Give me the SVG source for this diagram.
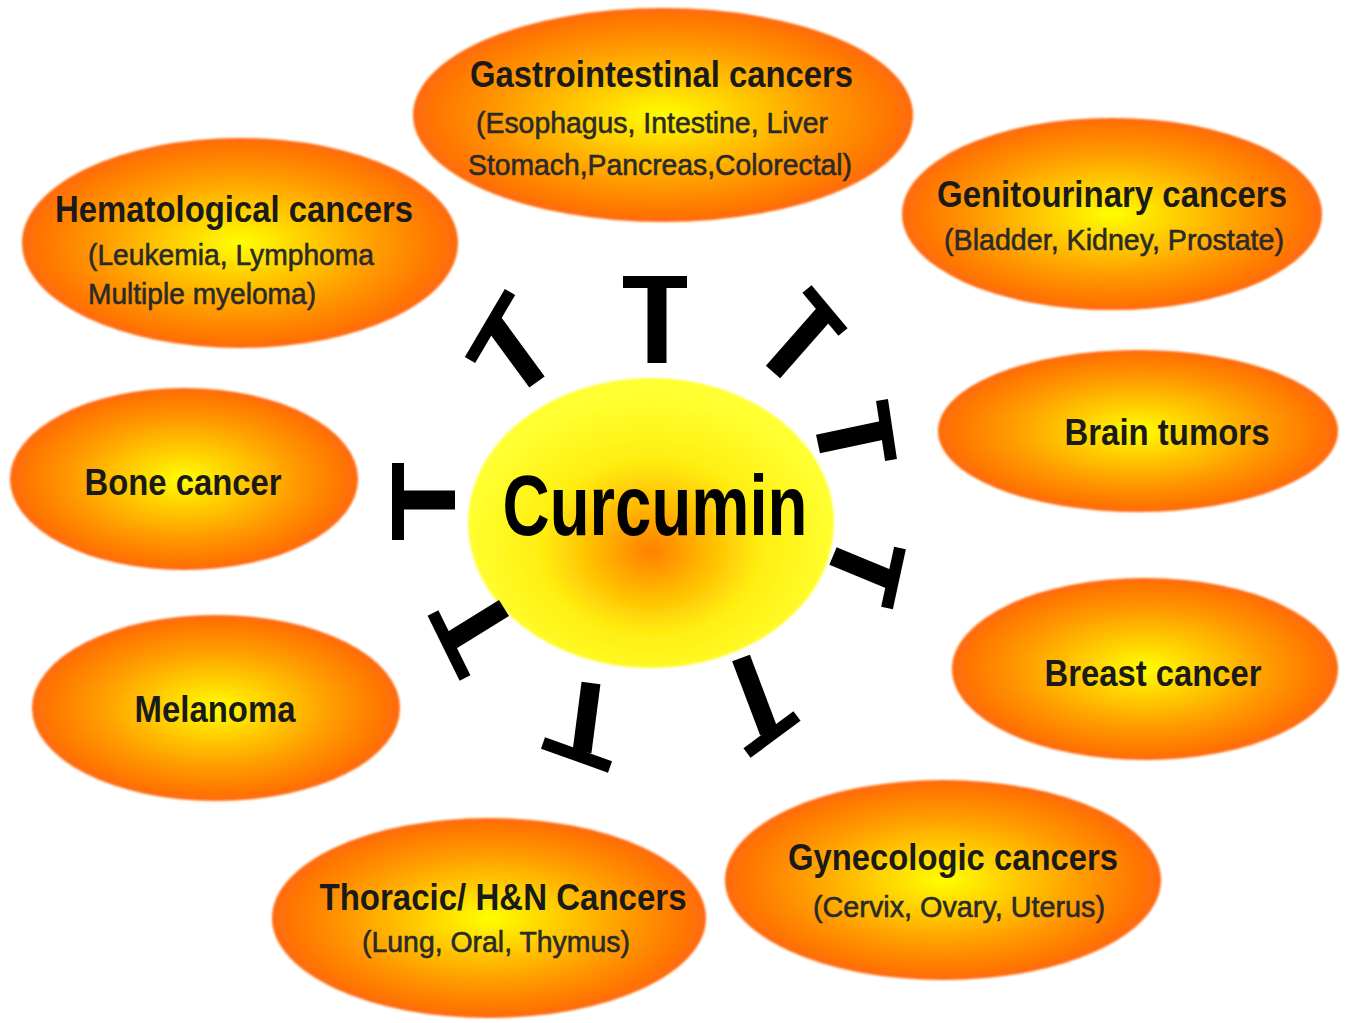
<svg xmlns="http://www.w3.org/2000/svg" width="1345" height="1023" viewBox="0 0 1345 1023">
<defs>
<radialGradient id="gOut" cx="50%" cy="50%" r="50%">
<stop offset="0" stop-color="#ffff00"/>
<stop offset="0.3" stop-color="#ffd000"/>
<stop offset="0.65" stop-color="#ff9a00"/>
<stop offset="1" stop-color="#ff6a08"/>
</radialGradient>
<radialGradient id="gCur" cx="50%" cy="57%" r="50%" fx="50%" fy="60%">
<stop offset="0" stop-color="#ff8000"/>
<stop offset="0.3" stop-color="#ffb800"/>
<stop offset="0.6" stop-color="#ffee10"/>
<stop offset="1" stop-color="#ffff30"/>
</radialGradient>
<filter id="soft" x="-5%" y="-5%" width="110%" height="110%"><feGaussianBlur stdDeviation="1.2"/></filter>
</defs>
<style>
.node{fill:url(#gOut);filter:url(#soft)}
.title{font-family:"Liberation Sans",Arial,sans-serif;font-weight:bold;font-size:36px;fill:#1a1a1a;text-anchor:middle}
.sub{font-family:"Liberation Sans",Arial,sans-serif;font-size:30px;fill:#2a2a2a;stroke:#2a2a2a;stroke-width:0.6;text-anchor:middle}
.stem{stroke:#000;stroke-width:19;fill:none}
.bar{stroke:#000;stroke-width:12;fill:none}
</style>
<rect width="1345" height="1023" fill="#ffffff"/>

<g id="gastrointestinal">
<ellipse class="node" cx="663" cy="115" rx="250" ry="107"/>
<text class="title" x="661.5" y="87" textLength="383" lengthAdjust="spacingAndGlyphs">Gastrointestinal cancers</text>
<text class="sub" x="652" y="133" textLength="352" lengthAdjust="spacingAndGlyphs">(Esophagus, Intestine, Liver</text>
<text class="sub" x="660" y="175" textLength="384" lengthAdjust="spacingAndGlyphs">Stomach,Pancreas,Colorectal)</text>
</g>

<g id="hematological">
<ellipse class="node" cx="240" cy="243" rx="218" ry="105"/>
<text class="title" x="234" y="222" textLength="358" lengthAdjust="spacingAndGlyphs">Hematological cancers</text>
<text class="sub" x="231" y="265" textLength="286" lengthAdjust="spacingAndGlyphs">(Leukemia, Lymphoma</text>
<text class="sub" x="202" y="304" textLength="228" lengthAdjust="spacingAndGlyphs">Multiple myeloma)</text>
</g>

<g id="genitourinary">
<ellipse class="node" cx="1112" cy="214" rx="210" ry="96"/>
<text class="title" x="1112" y="207" textLength="350" lengthAdjust="spacingAndGlyphs">Genitourinary cancers</text>
<text class="sub" x="1114" y="250" textLength="340" lengthAdjust="spacingAndGlyphs">(Bladder, Kidney, Prostate)</text>
</g>

<g id="brain">
<ellipse class="node" cx="1138" cy="431" rx="200" ry="81"/>
<text class="title" x="1167" y="445" textLength="205" lengthAdjust="spacingAndGlyphs">Brain tumors</text>
</g>

<g id="bone">
<ellipse class="node" cx="184" cy="479" rx="174" ry="91"/>
<text class="title" x="183" y="495" textLength="197" lengthAdjust="spacingAndGlyphs">Bone cancer</text>
</g>

<g id="melanoma">
<ellipse class="node" cx="216" cy="708" rx="184" ry="93"/>
<text class="title" x="215" y="722" textLength="161" lengthAdjust="spacingAndGlyphs">Melanoma</text>
</g>

<g id="breast">
<ellipse class="node" cx="1145" cy="669" rx="193" ry="91"/>
<text class="title" x="1153" y="686" textLength="217" lengthAdjust="spacingAndGlyphs">Breast cancer</text>
</g>

<g id="gynecologic">
<ellipse class="node" cx="943" cy="880" rx="218" ry="100"/>
<text class="title" x="953" y="870" textLength="330" lengthAdjust="spacingAndGlyphs">Gynecologic cancers</text>
<text class="sub" x="959" y="917" textLength="292" lengthAdjust="spacingAndGlyphs">(Cervix, Ovary, Uterus)</text>
</g>

<g id="thoracic">
<ellipse class="node" cx="489" cy="918" rx="217" ry="100"/>
<text class="title" x="503" y="910" textLength="367" lengthAdjust="spacingAndGlyphs">Thoracic/ H&amp;N Cancers</text>
<text class="sub" x="496" y="952" textLength="268" lengthAdjust="spacingAndGlyphs">(Lung, Oral, Thymus)</text>
</g>

<g id="curcumin">
<ellipse cx="651" cy="523" rx="183" ry="145" fill="url(#gCur)" filter="url(#soft)"/>
<text x="655" y="535" font-family="Liberation Sans, Arial, sans-serif" font-weight="bold" font-size="86" fill="#000" text-anchor="middle" textLength="305" lengthAdjust="spacingAndGlyphs">Curcumin</text>
</g>

<g id="connectors">
<line class="stem" x1="657" y1="363" x2="657" y2="286"/>
<line class="bar" x1="623" y1="282" x2="687" y2="282"/>
<line class="stem" x1="537" y1="382" x2="493" y2="322"/>
<line class="bar" x1="470" y1="360" x2="510" y2="292"/>
<line class="stem" x1="773" y1="372" x2="824" y2="314"/>
<line class="bar" x1="807" y1="289" x2="843" y2="332"/>
<line class="stem" x1="818" y1="444" x2="884" y2="430"/>
<line class="bar" x1="882" y1="400" x2="891" y2="460"/>
<line class="stem" x1="833" y1="556" x2="891" y2="580"/>
<line class="bar" x1="900" y1="548" x2="887" y2="608"/>
<line class="stem" x1="741" y1="658" x2="769" y2="732"/>
<line class="bar" x1="747" y1="753" x2="797" y2="716"/>
<line class="stem" x1="591" y1="683" x2="582" y2="752"/>
<line class="bar" x1="543" y1="743" x2="610" y2="767"/>
<line class="stem" x1="504" y1="608" x2="449" y2="642"/>
<line class="bar" x1="433" y1="613" x2="465" y2="678"/>
<line class="stem" x1="455" y1="500" x2="403" y2="500" stroke-width="24"/>
<line class="bar" x1="398" y1="463" x2="398" y2="540" stroke-width="11"/>
</g>
</svg>
